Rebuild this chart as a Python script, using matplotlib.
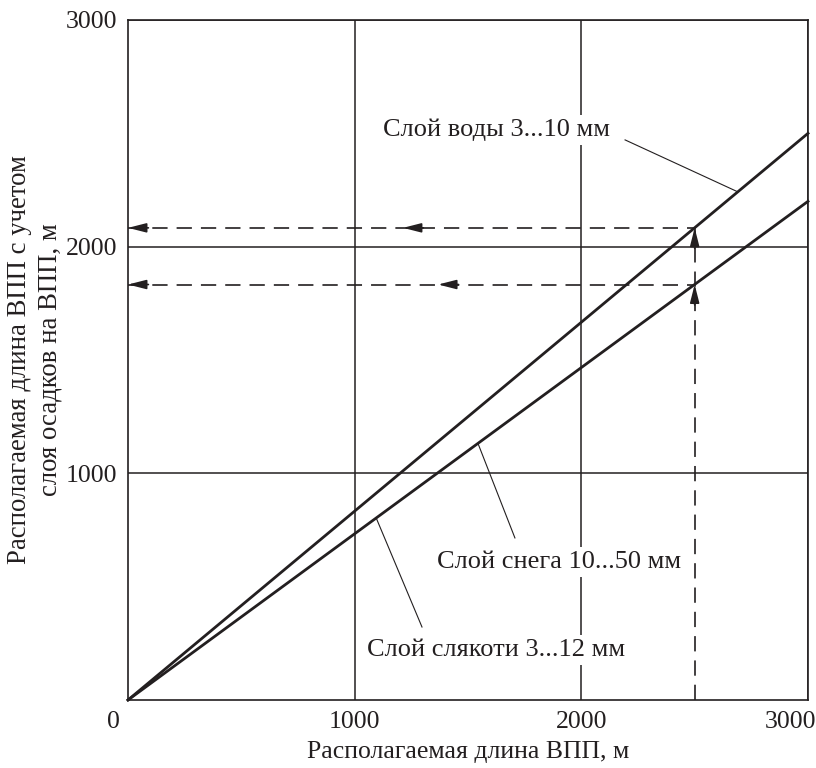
import matplotlib
matplotlib.use("Agg")
import matplotlib.pyplot as plt
import matplotlib.transforms as mtransforms

plt.rcParams["font.family"] = ["Liberation Serif", "DejaVu Serif"]
plt.rcParams["lines.scale_dashes"] = False

ink = "#231f20"

# runway length, m
x_run = [0, 3000]
water = [0, 2500]        # слой воды 3...10 мм
snow_slush = [0, 2200]   # слой снега / слякоти
x_read = 2500
y_read_water = 2083
y_read_snow = 1833
mid_arrow_water = 1213
mid_arrow_snow = 1368

ticks = [1000, 2000, 3000]
tick_labels = ["1000", "2000", "3000"]

fig = plt.figure(figsize=(8.16, 7.68), dpi=100)
ax = fig.add_axes([128 / 816, 1 - 700 / 768, 680 / 816, 680 / 768])
ax.set_xlim(0, 3000)
ax.set_ylim(0, 3000)

ax.set_xticks(ticks)
ax.set_yticks(ticks)
ax.set_xticklabels(tick_labels)
ax.set_yticklabels(tick_labels)
ax.tick_params(length=0, labelsize=18.5, colors=ink, pad=8)
ax.grid(True, color=ink, lw=1.1, zorder=1)
ax.set_axisbelow(True)
for s in ax.spines.values():
    s.set_color(ink)
    s.set_linewidth(1.2)

# last x label sits flush to the right
lbl = ax.get_xticklabels()[-1]
lbl.set_horizontalalignment("right")
lbl.set_transform(lbl.get_transform() + mtransforms.ScaledTranslation(8 / 100, 0, fig.dpi_scale_trans))

ax.annotate("0", xy=(0, 0), xytext=(-15, -22), textcoords="offset pixels",
            ha="center", va="center", fontsize=18.5, color=ink)

ax.set_xlabel("Располагаемая длина ВПП, м", fontsize=18.5, color=ink, labelpad=6)
ax.set_ylabel("Располагаемая длина ВПП с учетом\nслоя осадков на ВПП, м",
              fontsize=19.3, color=ink, labelpad=2, linespacing=1.3)

# main lines
ax.plot(x_run, water, color=ink, lw=2.0, zorder=4, clip_on=False)
ax.plot(x_run, snow_slush, color=ink, lw=2.0, zorder=4, clip_on=False)

# dashed read-out lines
dash = (11, 6.5)
ax.plot([x_read, x_read], [0, y_read_water], color=ink, lw=1.2, dashes=dash, zorder=3)
ax.plot([0, x_read], [y_read_water, y_read_water], color=ink, lw=1.2, dashes=dash, zorder=3)
ax.plot([0, x_read], [y_read_snow, y_read_snow], color=ink, lw=1.2, dashes=dash, zorder=3)

head = dict(arrowstyle="-|>,head_length=0.55,head_width=0.14", color=ink, lw=1.2,
            shrinkA=0, shrinkB=0, mutation_scale=20)
for tip_x, y in [(0, y_read_water), (mid_arrow_water, y_read_water),
                 (0, y_read_snow), (mid_arrow_snow, y_read_snow)]:
    ax.annotate("", xy=(tip_x, y), xytext=(tip_x + 90, y), arrowprops=head, zorder=5)
for y in [y_read_water, y_read_snow]:
    ax.annotate("", xy=(x_read, y), xytext=(x_read, y - 90), arrowprops=head, zorder=5)

# captions with leader lines
box = dict(boxstyle="square,pad=0.15", fc="white", ec="none")
ax.text(1125, 2515, "Слой воды 3...10 мм", fontsize=19, color=ink,
        va="center", ha="left", bbox=box, zorder=3)
ax.plot([2193, 2690], [2471, 2242], color=ink, lw=0.8, zorder=3)

ax.text(1363, 609, "Слой снега 10...50 мм", fontsize=19, color=ink,
        va="center", ha="left", bbox=box, zorder=3)
ax.plot([1707, 1544], [715, 1132], color=ink, lw=0.8, zorder=3)

ax.text(1054, 221, "Слой слякоти 3...12 мм", fontsize=19, color=ink,
        va="center", ha="left", bbox=box, zorder=3)
ax.plot([1297, 1095], [322, 803], color=ink, lw=0.8, zorder=3)

fig.savefig("out.png", dpi=100)
